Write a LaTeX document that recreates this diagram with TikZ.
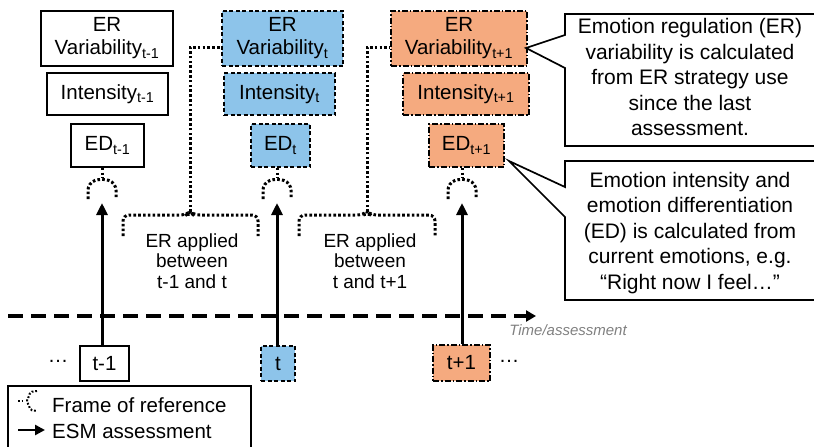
\documentclass[tikz,border=0pt]{standalone}
\usepackage{fontspec}
\setmainfont{Liberation Sans}
\usetikzlibrary{arrows.meta}
\definecolor{esmblue}{RGB}{141,196,234}
\definecolor{esmorange}{RGB}{245,170,127}
\definecolor{axisgray}{RGB}{128,128,128}

\begin{document}
\begin{tikzpicture}[x=1pt,y=-1pt,
  lbl/.style={font=\fontsize{20.5}{23}\selectfont, align=center, inner sep=0pt},
  prevbox/.style={lbl, draw=black, line width=1.7pt, fill=white},
  nowbox/.style={lbl, draw=black, line width=1.7pt, fill=esmblue, dash pattern=on 4pt off 2.5pt},
  nextbox/.style={lbl, draw=black, line width=1.7pt, fill=esmorange, dash pattern=on 6pt off 2pt on 1.5pt off 2pt},
  frameline/.style={line width=3pt, dash pattern=on 2.6pt off 2.2pt},
  esmarrow/.style={line width=3pt, -{Triangle[length=12pt,width=11pt]}},
  callout/.style={draw=black, line width=1.7pt, fill=white},
  calltext/.style={font=\fontsize{21}{25.5}\selectfont, align=center, inner sep=0pt},
  applied/.style={font=\fontsize{19}{20.5}\selectfont, align=center, inner sep=0pt},
]
\useasboundingbox (0,0) rectangle (814,447);

% ---- measurement boxes, one column per assessment ----
\node[prevbox, minimum width=132pt, minimum height=55pt] (erv1) at (107,38.5) {ER\\Variability\textsubscript{t-1}};
\node[prevbox, minimum width=121pt, minimum height=42pt] (int1) at (107.5,94) {Intensity\textsubscript{t-1}};
\node[prevbox, minimum width=73pt, minimum height=43pt] (ed1) at (107.5,145.5) {ED\textsubscript{t-1}};

\node[nowbox, minimum width=121pt, minimum height=55pt] (erv2) at (282.5,38.5) {ER\\Variability\textsubscript{t}};
\node[nowbox, minimum width=111pt, minimum height=42pt] (int2) at (279.5,94) {Intensity\textsubscript{t}};
\node[nowbox, minimum width=59pt, minimum height=43pt] (ed2) at (280.5,145.5) {ED\textsubscript{t}};

\node[nextbox, minimum width=136pt, minimum height=55pt] (erv3) at (459,38.5) {ER\\Variability\textsubscript{t+1}};
\node[nextbox, minimum width=126pt, minimum height=42pt] (int3) at (466,94) {Intensity\textsubscript{t+1}};
\node[nextbox, minimum width=75pt, minimum height=43pt] (ed3) at (466.5,145.5) {ED\textsubscript{t+1}};

% ---- frame-of-reference brackets under each ED box ----
\foreach \x/\n in {102/1,277/2,462/3}{
  \coordinate (f\n) at (\x,178);
  \coordinate (a\n) at (\x,203);
  \draw[frameline] (ed\n.south -| f\n) -- (f\n);
  \draw[frameline, rounded corners=7pt] (\x-14,199) -- (\x-14,183) -- (f\n) -- (\x+14,183) -- (\x+14,199);
}

% ---- ER applied between assessments ----
\coordinate (b1) at (190,212);
\coordinate (b2) at (367,212);
\draw[frameline, rounded corners=6pt] (123,236) -- (123,215) -- (186,215) -- (b1) -- (194,215) -- (258,215) -- (258,236);
\draw[frameline, rounded corners=6pt] (299,236) -- (299,215) -- (363,215) -- (b2) -- (371,215) -- (435,215) -- (435,236);
\draw[frameline] (b1) |- ([yshift=-8.5pt]erv2.west);
\draw[frameline] (b2) |- ([yshift=-8.5pt]erv3.west);
\node[applied] (ap1) at (192,261) {ER applied\\between\\t-1 and t};
\node[applied] (ap2) at (370,261) {ER applied\\between\\t and t+1};

% ---- time axis ----
\coordinate (ax0) at (8,316);
\coordinate (ax1) at (536,316);
\draw[line width=3.4pt, dash pattern=on 15pt off 8pt, -{Triangle[length=10pt,width=11pt]}] (ax0) -- (ax1);
\node[font=\fontsize{15}{17}\selectfont\itshape, text=axisgray, inner sep=0pt] (axlbl) at (568,330) {Time/assessment};

% ---- assessment occasions ----
\node[prevbox, minimum width=49pt, minimum height=35pt] (tm1) at (104.5,363.5) {t-1};
\node[nowbox, minimum width=34pt, minimum height=35pt] (t0) at (278,363.5) {t};
\node[nextbox, minimum width=57pt, minimum height=36pt] (tp1) at (461.5,363) {t+1};
\node[lbl] (dl) at (58,361) {…};
\node[lbl] (dr) at (509,361) {…};

\draw[esmarrow] (tm1.north -| a1) -- (a1);
\draw[esmarrow] (t0.north -| a2) -- (a2);
\draw[esmarrow] (tp1.north -| a3) -- (a3);

% ---- callouts ----
\coordinate (p1) at (526,48);
\coordinate (p2) at (509,161);
\draw[callout] (565,14) -- (816,14) -- (816,146) -- (565,146) -- (565,68) -- (p1) -- (565,35) -- cycle;
\draw[callout] (565,161) -- (816,161) -- (816,300) -- (565,300) -- (565,217) -- (p2) -- (565,187) -- cycle;
\node[calltext] (c1) at (690,77) {Emotion regulation (ER)\\variability is calculated\\from ER strategy use\\since the last\\assessment.};
\node[calltext] (c2) at (690,233) {Emotion intensity and\\emotion differentiation\\(ED) is calculated from\\current emotions, e.g.\\“Right now I feel…”};

% ---- legend ----
\draw[line width=1.7pt] (8,386) rectangle (251,460);
\draw[line width=2pt, dash pattern=on 1.8pt off 1.8pt] (18,401) -- (25,401);
\draw[line width=2pt, dash pattern=on 1.8pt off 1.8pt, rounded corners=2pt] (37,391) -- (30,392) -- (29,397) -- (26,401) -- (29,405) -- (30,410) -- (37,411);
\coordinate (lg0) at (18,430);
\coordinate (lg1) at (45,430);
\draw[line width=2.8pt, -{Triangle[length=10pt,width=10pt]}] (lg0) -- (lg1);
\node[lbl, anchor=west] (lf) at (52,405) {Frame of reference};
\node[lbl, anchor=west] (le) at (52,431) {ESM assessment};
\end{tikzpicture}
\end{document}
